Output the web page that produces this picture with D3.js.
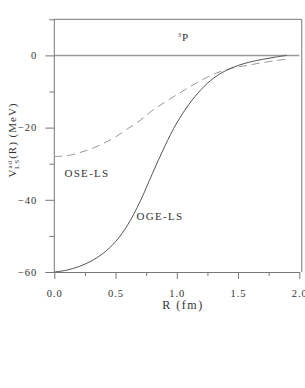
<!DOCTYPE html>
<html lang="en">
<head>
<meta charset="UTF-8">
<title>3P LS potential</title>
<script src="https://d3js.org/d3.v7.min.js"></script>
<style>
    body { margin: 0; background: #fff; }
    svg { display: block; }
    .tick text { font-family: "Liberation Serif", serif; font-size: 10.5px; fill: #333; letter-spacing: 1px; }
    .axis path, .axis line { stroke: #777; }
    .lbl { font-family: "Liberation Serif", serif; fill: #333; }
</style>
</head>
<body>
<svg id="chart" width="305" height="388"></svg>
<script>
    // values
    const radius = [0, 0.1, 0.2, 0.3, 0.4, 0.5, 0.6, 0.7, 0.8, 0.9, 1.0, 1.1, 1.2, 1.3, 1.4, 1.5, 1.6, 1.7, 1.8, 1.9];
    const ogeLS = [-60, -59.5, -58.5, -57.0, -54.8, -51.6, -46.9, -40.5, -32.8, -25.3, -18.7, -13.5, -9.4, -6.3, -4.2, -2.8, -1.8, -1.1, -0.5, 0];
    const oseLS = [-28.0, -27.8, -27.0, -25.9, -24.4, -22.6, -20.3, -18.0, -15.3, -13.0, -10.9, -8.8, -6.9, -5.2, -4.0, -3.2, -2.6, -2.0, -1.5, -1.0];
    const xMajor = [0, 0.5, 1.0, 1.5, 2.0];
    const xMinor = [0.25, 0.75, 1.25, 1.75];
    const yMajor = [0, -20, -40, -60];
    const yMinor = [10, -10, -30, -50];

    const svg = d3.select("#chart");
    const x = d3.scaleLinear().domain([0, 2]).range([54.3, 299.3]);
    const y = d3.scaleLinear().domain([-60, 10]).range([272, 19.3]);

    // frame (top and right sides)
    svg.append("path")
        .attr("d", `M${x(0)},${y(10)}H${x(2.02)}V${y(-60)}`)
        .attr("fill", "none").attr("stroke", "#777");

    // zero line
    svg.append("line")
        .attr("x1", x(0)).attr("x2", x(2))
        .attr("y1", y(0)).attr("y2", y(0))
        .attr("stroke", "#999").attr("stroke-width", 1.5);

    const gx = svg.append("g").attr("class", "axis").attr("transform", `translate(0,${y(-60)})`);
    gx.call(d3.axisBottom(x).tickValues(xMajor).tickSize(7).tickSizeOuter(0).tickPadding(11).tickFormat(d3.format(".1f")));
    svg.append("g").attr("class", "axis").attr("transform", `translate(0,${y(-60)})`)
        .call(d3.axisBottom(x).tickValues(xMinor).tickSize(4).tickSizeOuter(0).tickFormat(""))
        .select(".domain").remove();

    const gy = svg.append("g").attr("class", "axis").attr("transform", `translate(${x(0)},0)`);
    gy.call(d3.axisLeft(y).tickValues(yMajor).tickSize(9).tickSizeOuter(0).tickPadding(8).tickFormat(d3.format("d")));
    svg.append("g").attr("class", "axis").attr("transform", `translate(${x(0)},0)`)
        .call(d3.axisLeft(y).tickValues(yMinor).tickSize(5).tickSizeOuter(0).tickFormat(""))
        .select(".domain").remove();
    svg.selectAll(".axis .domain").attr("stroke", "#777");
    gy.select(".domain").attr("d", `M0,${y(10)}V${y(-60)}`);

    const line = d3.line().x(d => x(d[0])).y(d => y(d[1])).curve(d3.curveCatmullRom);

    svg.append("path")
        .datum(d3.zip(radius, oseLS))
        .attr("d", line)
        .attr("fill", "none").attr("stroke", "#999").attr("stroke-width", 1)
        .attr("stroke-dasharray", "8,5");

    svg.append("path")
        .datum(d3.zip(radius, ogeLS))
        .attr("d", line)
        .attr("fill", "none").attr("stroke", "#555").attr("stroke-width", 1);

    // labels
    svg.append("text").attr("class", "lbl").attr("x", 87).attr("y", 177)
        .attr("text-anchor", "middle").style("font-size", "11px").style("letter-spacing", "1.3px")
        .text("OSE-LS");
    svg.append("text").attr("class", "lbl").attr("x", 160).attr("y", 220)
        .attr("text-anchor", "middle").style("font-size", "11px").style("letter-spacing", "1.3px")
        .text("OGE-LS");

    const tp = svg.append("text").attr("class", "lbl").attr("x", 178).attr("y", 41).style("font-size", "11px");
    tp.append("tspan").style("font-size", "6px").attr("dy", -4).text("3");
    tp.append("tspan").attr("dy", 4).attr("dx", 1).text("P");

    svg.append("text").attr("class", "lbl").attr("x", 183).attr("y", 309)
        .attr("text-anchor", "middle").style("font-size", "12px").style("letter-spacing", "1.5px")
        .text("R (fm)");

    const yl = svg.append("text").attr("class", "lbl")
        .attr("transform", "translate(16,140) rotate(-90)")
        .attr("text-anchor", "middle").style("font-size", "11px").style("letter-spacing", "1px");
    yl.append("tspan").text("V");
    yl.append("tspan").style("font-size", "7px").attr("dy", -4).text("ad");
    yl.append("tspan").style("font-size", "7px").attr("dy", 7).attr("dx", -9).text("LS");
    yl.append("tspan").attr("dy", -3).text("(R) (MeV)");
</script>
</body>
</html>
